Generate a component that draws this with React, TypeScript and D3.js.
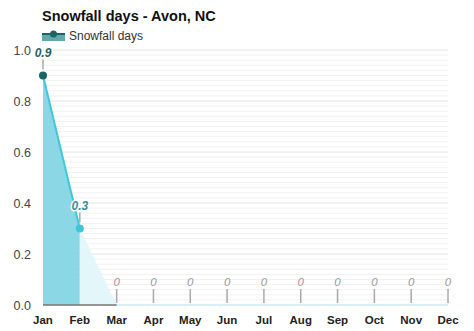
import React from "react";
import * as d3 from "d3";

const months = ["Jan","Feb","Mar","Apr","May","Jun","Jul","Aug","Sep","Oct","Nov","Dec"];
const snowDays = [0.9,0.3,0,0,0,0,0,0,0,0,0,0];
const yTicks = [0,0.2,0.4,0.6,0.8,1.0];
const title = "Snowfall days - Avon, NC";
const seriesName = "Snowfall days";

export default function App() {
  const W = 474, H = 331;
  const x = d3.scalePoint<string>().domain(months).range([43, 448]);
  const y = d3.scaleLinear().domain([0, 1]).range([305, 50]);
  const minor = d3.range(0, 1.0001, 0.02);
  const font = "Arial, 'Liberation Sans', Helvetica, sans-serif";

  const seg = (a: number, b: number) => snowDays.slice(a, b + 1);
  const area1 = d3.area<number>().x((_, i) => x(months[i])!).y0(y(0)).y1(d => y(d));
  const pathA = area1(seg(0, 1));
  const area2 = d3.area<number>().x((_, i) => x(months[i + 1])!).y0(y(0)).y1(d => y(d));
  const pathB = area2(seg(1, 2));
  const line1 = d3.line<number>().x((_, i) => x(months[i])!).y(d => y(d))(seg(0, 1));

  return (
    <svg width={W} height={H} style={{ position: "absolute", left: 0, top: 0, background: "#fff" }} fontFamily={font}>
      {minor.map((v, i) => (
        <line key={"m" + i} x1={43} x2={448} y1={y(v)} y2={y(v)}
          stroke={i % 10 === 0 ? "#e2e2e2" : "#f1f1f1"} strokeWidth={1} />
      ))}
      {yTicks.map(v => (
        <text key={"yt" + v} x={31} y={y(v) + 4.5} textAnchor="end" fontSize={12.5} fill="#444">{v.toFixed(1)}</text>
      ))}
      <path d={pathA!} fill="#7fd3e3" opacity={0.9} />
      <path d={pathB!} fill="#e3f6fa" />
      <line x1={x("Mar")!} x2={448} y1={y(0)} y2={y(0)} stroke="#d8f0f5" strokeWidth={2} />
      <line x1={43} x2={x("Mar")!} y1={y(0)} y2={y(0)} stroke="#777" strokeWidth={1.5} />
      <path d={line1!} fill="none" stroke="#3fc8dc" strokeWidth={2} />
      <circle cx={x("Jan")} cy={y(0.9)} r={4} fill="#1d6466" />
      <circle cx={x("Feb")} cy={y(0.3)} r={4} fill="#3fc5d8" />
      {snowDays.map((v, i) => {
        const cx = x(months[i])!;
        const cy = y(v);
        const zero = v === 0;
        return (
          <g key={"lbl" + i}>
            <line x1={cx} x2={cx} y1={cy - 16} y2={cy - (zero ? 2 : 6)} stroke="#aaa" strokeWidth={1.5} />
            <text x={cx} y={cy - 19} textAnchor="middle" fontSize={zero ? 11.5 : 12} fontStyle="italic"
              fontWeight={zero ? "normal" : "bold"}
              fill={zero ? "#999" : i === 0 ? "#1d6466" : "#3a8f9c"}
              stroke="#fff" strokeWidth={zero ? 0 : 3} paintOrder="stroke">
              {zero ? "0" : v.toString()}
            </text>
          </g>
        );
      })}
      {months.map(m => (
        <text key={"x" + m} x={x(m)!} y={324} textAnchor="middle" fontSize={11.5} fontWeight="bold" fill="#222">{m}</text>
      ))}
      <text x={42} y={21} fontSize={14.5} fontWeight="bold" fill="#111">{title}</text>
      <rect x={42} y={34} width={23} height={7} fill="#5fa9ad" />
      <line x1={42} x2={65} y1={34} y2={34} stroke="#1d6466" strokeWidth={2} />
      <circle cx={53.5} cy={34} r={3.5} fill="#1d6466" />
      <text x={69} y={40} fontSize={12} fill="#333">{seriesName}</text>
    </svg>
  );
}
